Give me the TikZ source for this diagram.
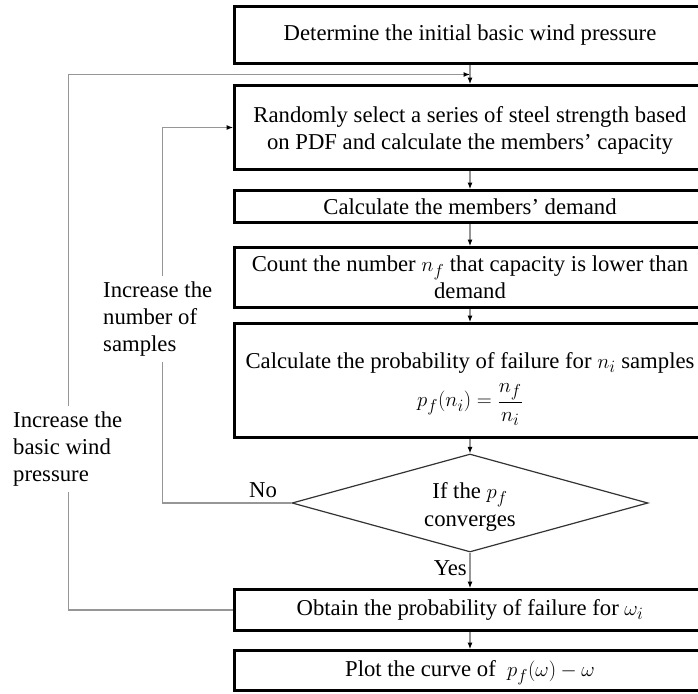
\documentclass[tikz,border=0pt]{standalone}
\usepackage{fontspec}
\setmainfont{Liberation Serif}
\usetikzlibrary{shapes.geometric,arrows.meta,calc}
\definecolor{conncol}{RGB}{150,150,150}
\begin{document}
\begin{tikzpicture}[x=1pt,y=-1pt,
  font=\fontsize{22.7}{26.7}\selectfont,
  box/.style={draw=black,line width=2.8pt,minimum width=471pt,inner sep=0pt,align=center,fill=white},
  dec/.style={diamond,draw=black!80,line width=1.2pt,minimum width=356pt,minimum height=98pt,aspect=3.6,inner sep=0pt,align=center},
  conn/.style={draw=conncol,line width=1.1pt},
  arr/.style={conn,-{Latex[length=6.5pt,width=5pt,color=black]}},
  lbl/.style={fill=white,align=left,inner ysep=6pt}
]
\clip (0,0) rectangle (698,693);
\fill[white] (0,0) rectangle (698,693);
% boxes
\node[box,minimum height=57pt] (b1) at (470,35) {Determine the initial basic wind pressure};
\node[box,minimum height=84pt] (b2) at (470,127.5) {\rule{0pt}{22pt}Randomly select a series of steel strength based\\on PDF and calculate the members' capacity};
\node[box,minimum height=32pt] (b3) at (470,206.5) {Calculate the members' demand};
\node[box,minimum height=60pt] (b4) at (470,277.5) {Count the number $n_f$ that capacity is lower than\\demand};
\node[box,minimum height=114pt] (b5) at (470,380.5) {};
\node[anchor=north,align=center,inner sep=0pt] (b5t) at ([yshift=-30pt]b5.north) {Calculate the probability of failure for $n_i$ samples\\[9pt] $\displaystyle p_f(n_i)=\frac{n_f}{n_i}$};
\node[dec] (d) at (470,503) {\rule{0pt}{24pt}If the $p_f$\\[2pt]converges};
\node[box,minimum height=41pt] (b6) at (470,610) {Obtain the probability of failure for $\omega_i$};
\node[box,minimum height=40pt] (b7) at (470,670.5) {\rule{0pt}{20pt}Plot the curve of \ $p_f(\omega)-\omega$};
% labels
\node[anchor=east,inner sep=1pt] (yes) at (468,568) {Yes};
\node[inner sep=1pt] (no) at (263,490) {No};
% connectors
\coordinate (m) at ($(b1.south)!0.5!(b2.north)$);
\draw[arr] (b1) -- (b2);
\draw[arr] (b2) -- (b3);
\draw[arr] (b3) -- (b4);
\draw[arr] (b4) -- (b5);
\draw[arr] (b5) -- (d);
\draw[arr] (d) -- (b6);
\draw[arr] (b6) -- (b7);
\draw[arr] (d.west) -- ++(-129,0) |- (b2.west);
\draw[arr] (b6.west) -- ++(-165,0) |- (m);
% loop labels
\node[lbl,anchor=north west,inner xsep=10pt] (l1) at (93,276) {Increase the\\number of\\samples};
\node[lbl,anchor=north west,inner xsep=13pt] (l2) at (0,406) {Increase the\\basic wind\\pressure};
\end{tikzpicture}
\end{document}
